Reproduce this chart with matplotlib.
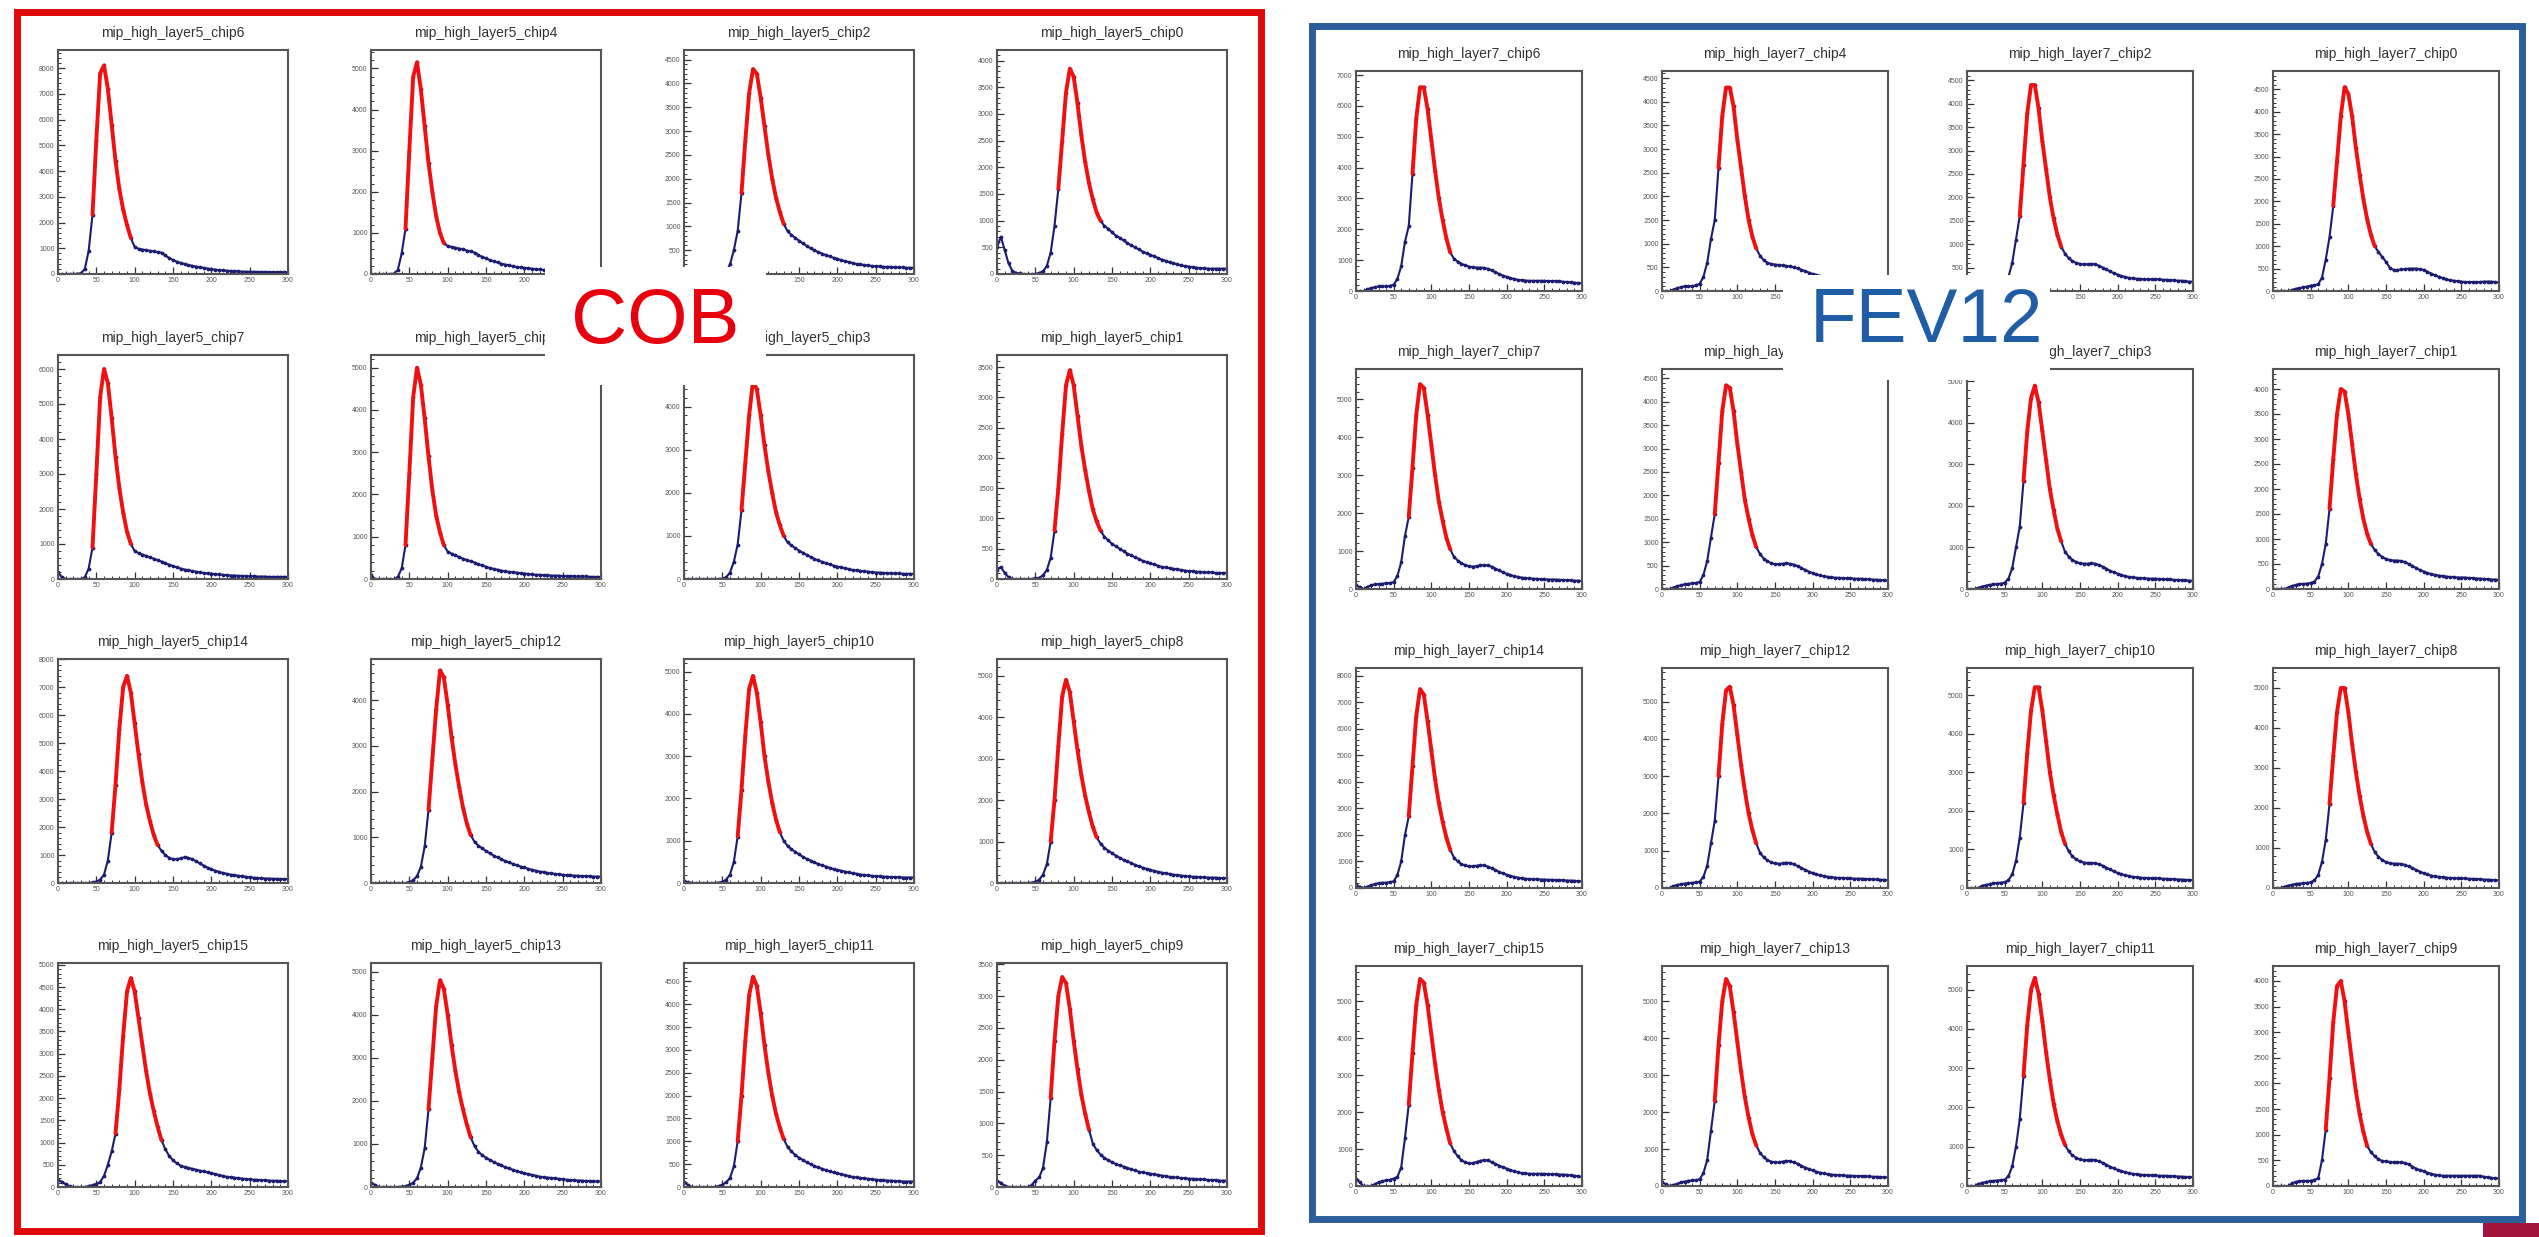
import matplotlib
matplotlib.use("Agg")
import matplotlib.pyplot as plt
from matplotlib.patches import Rectangle
from matplotlib.ticker import MultipleLocator, FormatStrFormatter

plt.rcParams['font.family'] = ['Liberation Sans', 'DejaVu Sans']

W, H = 2539, 1237

# bin centres (ADC), every 5 counts
adc = list(range(0, 301, 5))

# ---- layer 5 (COB) : counts per bin ----
l5_chip6 = [0, 0, 0, 0, 0, 10, 30, 200, 900, 2300,
            5200, 7800, 8100, 7200, 5800, 4400, 3300, 2500, 1900, 1400,
            1050, 980, 950, 930, 900, 880, 850, 830, 720, 620,
            540, 480, 430, 390, 350, 320, 290, 260, 240, 210,
            190, 170, 150, 140, 130, 120, 110, 100, 95, 90,
            90, 85, 80, 80, 80, 75, 75, 70, 70, 70, 70]
l5_chip4 = [0, 0, 0, 0, 0, 0, 10, 100, 500, 1100,
            3000, 4800, 5150, 4500, 3600, 2700, 2000, 1400, 1000, 750,
            680, 660, 640, 620, 600, 570, 550, 520, 460, 420,
            380, 340, 310, 280, 250, 230, 210, 190, 170, 160,
            150, 140, 130, 120, 110, 100, 95, 90, 85, 80,
            80, 75, 75, 70, 70, 70, 65, 65, 60, 60, 60]
l5_chip2 = [0, 0, 0, 0, 0, 0, 0, 0, 0, 0,
            10, 50, 200, 500, 900, 1700, 2800, 3800, 4300, 4200,
            3700, 3100, 2500, 2000, 1600, 1300, 1050, 900, 820, 760,
            700, 640, 590, 540, 500, 460, 430, 400, 370, 340,
            320, 290, 270, 250, 230, 210, 200, 190, 180, 170,
            160, 160, 150, 150, 150, 140, 140, 140, 130, 130, 130]
l5_chip0 = [500, 700, 450, 200, 60, 20, 10, 0, 0, 0,
            0, 20, 50, 150, 400, 900, 1600, 2500, 3400, 3850,
            3700, 3200, 2600, 2100, 1700, 1400, 1150, 1000, 900, 850,
            780, 720, 680, 630, 580, 540, 500, 460, 420, 390,
            360, 330, 300, 270, 250, 220, 200, 180, 160, 150,
            140, 130, 120, 110, 110, 100, 100, 100, 100, 100, 100]
l5_chip7 = [200, 50, 0, 0, 0, 0, 0, 50, 300, 900,
            3000, 5200, 6000, 5600, 4600, 3500, 2600, 1900, 1350, 1000,
            800, 740, 700, 660, 620, 580, 540, 500, 450, 410,
            370, 330, 300, 270, 250, 230, 210, 190, 170, 160,
            150, 140, 130, 120, 110, 100, 100, 90, 90, 80,
            80, 80, 70, 70, 70, 60, 60, 60, 60, 60, 60]
l5_chip5 = [100, 0, 0, 0, 0, 0, 0, 50, 250, 800,
            2500, 4300, 5000, 4600, 3800, 2900, 2100, 1500, 1100, 800,
            650, 600, 560, 520, 480, 450, 420, 390, 350, 320,
            290, 260, 240, 220, 200, 180, 170, 160, 150, 140,
            130, 120, 110, 100, 100, 90, 90, 80, 80, 80,
            70, 70, 70, 60, 60, 60, 60, 50, 50, 50, 50]
l5_chip3 = [0, 0, 0, 0, 0, 0, 0, 0, 0, 0,
            10, 40, 150, 400, 800, 1600, 2700, 3800, 4600, 4400,
            3800, 3100, 2500, 2000, 1550, 1250, 1000, 850, 780, 720,
            660, 610, 560, 510, 470, 430, 400, 370, 340, 310,
            290, 270, 250, 230, 210, 200, 190, 180, 170, 160,
            150, 150, 140, 140, 130, 130, 130, 120, 120, 120, 120]
l5_chip1 = [150, 200, 100, 30, 0, 0, 0, 0, 0, 0,
            10, 20, 60, 150, 350, 800, 1500, 2400, 3200, 3450,
            3200, 2700, 2200, 1800, 1450, 1150, 950, 800, 700, 640,
            580, 540, 500, 460, 420, 390, 360, 330, 300, 280,
            260, 240, 220, 200, 190, 180, 170, 160, 150, 140,
            130, 130, 120, 120, 110, 110, 110, 100, 100, 100, 100]
l5_chip14 = [0, 0, 0, 0, 0, 0, 0, 0, 0, 20,
             50, 120, 300, 800, 1800, 3500, 5500, 7000, 7400, 6800,
             5700, 4600, 3600, 2800, 2200, 1700, 1350, 1150, 1000, 900,
             850, 850, 880, 920, 900, 850, 780, 700, 620, 550,
             490, 440, 400, 360, 330, 300, 280, 260, 240, 220,
             200, 190, 180, 170, 160, 160, 150, 150, 140, 140, 140]
l5_chip12 = [0, 0, 0, 0, 0, 0, 0, 0, 0, 0,
             20, 60, 150, 350, 800, 1600, 2700, 3800, 4650, 4500,
             3900, 3200, 2600, 2100, 1650, 1300, 1050, 900, 820, 760,
             700, 650, 600, 560, 520, 480, 450, 420, 390, 360,
             340, 310, 290, 270, 250, 240, 220, 210, 200, 190,
             180, 170, 170, 160, 160, 150, 150, 150, 140, 140, 140]
l5_chip10 = [50, 20, 0, 0, 0, 0, 0, 0, 0, 10,
             30, 80, 200, 500, 1100, 2200, 3500, 4600, 4900, 4500,
             3800, 3000, 2400, 1900, 1500, 1200, 1000, 880, 800, 740,
             680, 620, 570, 530, 490, 450, 420, 390, 360, 330,
             310, 290, 270, 250, 230, 220, 200, 190, 180, 170,
             160, 160, 150, 150, 140, 140, 140, 130, 130, 130, 130]
l5_chip8 = [0, 0, 0, 0, 0, 0, 0, 0, 0, 10,
            30, 80, 200, 450, 1000, 2000, 3300, 4500, 4900, 4600,
            3900, 3200, 2600, 2100, 1700, 1350, 1100, 950, 850, 780,
            720, 660, 610, 560, 520, 480, 440, 400, 370, 340,
            320, 290, 270, 250, 230, 220, 200, 190, 180, 170,
            160, 150, 150, 140, 140, 130, 130, 130, 120, 120, 120]
l5_chip15 = [150, 120, 60, 20, 0, 0, 0, 0, 20, 40,
             70, 110, 250, 500, 800, 1200, 2200, 3400, 4400, 4700,
             4400, 3800, 3200, 2600, 2100, 1700, 1350, 1050, 850, 700,
             600, 530, 480, 450, 430, 410, 390, 370, 350, 330,
             310, 290, 270, 250, 230, 220, 210, 200, 190, 180,
             170, 165, 160, 155, 150, 145, 140, 140, 135, 130, 130]
l5_chip13 = [100, 50, 0, 0, 0, 0, 0, 0, 10, 20,
             50, 100, 200, 450, 900, 1800, 3000, 4200, 4800, 4600,
             4000, 3300, 2700, 2200, 1800, 1450, 1150, 950, 820, 740,
             680, 630, 580, 540, 500, 460, 430, 400, 370, 340,
             320, 300, 280, 260, 240, 230, 220, 210, 200, 190,
             180, 170, 160, 160, 150, 150, 140, 140, 130, 130, 130]
l5_chip11 = [100, 50, 0, 0, 0, 0, 0, 0, 0, 20,
             50, 100, 200, 450, 1000, 2000, 3200, 4200, 4600, 4400,
             3800, 3100, 2500, 2000, 1600, 1300, 1050, 880, 780, 700,
             640, 590, 540, 500, 460, 430, 400, 370, 340, 320,
             300, 280, 260, 240, 220, 210, 200, 190, 180, 170,
             160, 150, 150, 140, 140, 130, 130, 120, 120, 120, 120]
l5_chip9 = [100, 60, 20, 0, 0, 0, 0, 0, 0, 30,
            100, 150, 300, 700, 1400, 2300, 3000, 3300, 3200, 2800,
            2300, 1850, 1450, 1150, 900, 680, 580, 510, 460, 420,
            390, 360, 340, 320, 300, 280, 260, 240, 230, 220,
            210, 200, 190, 180, 170, 160, 150, 150, 140, 140,
            130, 130, 120, 120, 120, 110, 110, 110, 100, 100, 100]

# ---- layer 7 (FEV12) : counts per bin ----
l7_chip6 = [0, 0, 0, 50, 100, 120, 150, 150, 150, 170,
            200, 400, 800, 1600, 2100, 3800, 5600, 6600, 6600, 5900,
            4900, 3900, 3000, 2300, 1700, 1250, 1050, 950, 880, 830,
            790, 770, 760, 760, 750, 720, 670, 610, 550, 500,
            460, 420, 390, 360, 350, 340, 330, 330, 330, 330,
            330, 320, 320, 320, 310, 300, 290, 280, 270, 260, 250]
l7_chip4 = [0, 0, 0, 30, 60, 80, 100, 100, 100, 120,
            150, 300, 600, 1100, 1500, 2600, 3700, 4300, 4300, 3900,
            3200, 2600, 2000, 1500, 1150, 900, 750, 650, 600, 570,
            560, 550, 540, 530, 520, 500, 480, 450, 420, 390,
            360, 340, 320, 300, 290, 280, 270, 260, 250, 250,
            240, 240, 230, 230, 220, 220, 210, 210, 200, 200, 200]
l7_chip2 = [0, 0, 0, 30, 60, 80, 100, 100, 100, 120,
            150, 300, 600, 1100, 1600, 2700, 3800, 4400, 4400, 3900,
            3200, 2600, 2000, 1550, 1200, 950, 800, 700, 640, 600,
            580, 570, 570, 580, 570, 540, 500, 460, 420, 380,
            350, 320, 300, 280, 270, 260, 260, 250, 250, 250,
            250, 250, 240, 240, 230, 230, 220, 220, 210, 200, 200]
l7_chip0 = [0, 0, 0, 0, 0, 20, 50, 60, 80, 100,
            120, 130, 150, 300, 700, 1200, 1900, 2900, 3900, 4550,
            4400, 3900, 3200, 2600, 2050, 1600, 1250, 1000, 870, 760,
            650, 520, 470, 470, 480, 490, 500, 500, 500, 490,
            470, 430, 390, 350, 320, 290, 260, 240, 230, 220,
            210, 200, 200, 200, 200, 200, 210, 210, 210, 200, 190]
l7_chip7 = [100, 50, 0, 50, 100, 120, 130, 140, 150, 160,
            180, 350, 700, 1400, 1900, 3200, 4600, 5400, 5300, 4600,
            3800, 3000, 2300, 1800, 1350, 1050, 850, 750, 680, 630,
            600, 590, 600, 620, 630, 620, 590, 540, 490, 440,
            400, 370, 340, 320, 300, 290, 280, 270, 270, 260,
            260, 250, 250, 250, 240, 240, 230, 230, 220, 220, 210]
l7_chip5 = [0, 0, 0, 30, 60, 80, 100, 110, 120, 130,
            150, 300, 600, 1100, 1600, 2700, 3800, 4350, 4300, 3800,
            3100, 2500, 1900, 1500, 1150, 900, 750, 650, 590, 550,
            530, 530, 540, 550, 540, 520, 490, 450, 410, 370,
            340, 310, 290, 270, 260, 250, 240, 240, 230, 230,
            230, 220, 220, 220, 210, 210, 200, 200, 190, 190, 180]
l7_chip3 = [0, 0, 0, 30, 60, 80, 100, 110, 120, 130,
            150, 250, 500, 1000, 1500, 2600, 3800, 4600, 4900, 4500,
            3800, 3100, 2400, 1900, 1450, 1150, 900, 780, 700, 650,
            620, 610, 610, 620, 610, 580, 540, 490, 440, 400,
            370, 340, 310, 290, 280, 270, 260, 260, 250, 250,
            250, 240, 240, 230, 230, 220, 220, 210, 210, 200, 200]
l7_chip1 = [0, 0, 0, 0, 30, 60, 80, 100, 100, 110,
            120, 150, 250, 500, 900, 1600, 2600, 3500, 4000, 3950,
            3500, 2900, 2300, 1800, 1400, 1100, 900, 780, 700, 640,
            600, 580, 570, 570, 560, 540, 500, 460, 420, 380,
            350, 320, 300, 280, 270, 260, 250, 240, 240, 230,
            230, 230, 220, 220, 210, 210, 200, 200, 190, 190, 180]
l7_chip14 = [100, 50, 0, 50, 100, 150, 180, 200, 200, 220,
             250, 500, 1000, 2000, 2700, 4600, 6500, 7500, 7300, 6300,
             5200, 4100, 3200, 2500, 1900, 1450, 1150, 1000, 900, 850,
             820, 820, 840, 860, 850, 810, 750, 680, 610, 550,
             500, 460, 420, 390, 370, 350, 340, 330, 330, 320,
             320, 310, 310, 300, 300, 290, 280, 280, 270, 260, 250]
l7_chip12 = [0, 0, 0, 50, 80, 100, 120, 130, 140, 150,
             170, 300, 600, 1200, 1800, 3000, 4400, 5300, 5400, 4900,
             4100, 3300, 2600, 2000, 1550, 1200, 950, 820, 740, 690,
             660, 650, 660, 680, 670, 640, 590, 540, 490, 440,
             400, 370, 340, 320, 300, 290, 280, 270, 270, 260,
             260, 250, 250, 250, 240, 240, 230, 230, 220, 220, 210]
l7_chip10 = [0, 0, 0, 0, 60, 80, 100, 120, 130, 140,
             150, 200, 350, 700, 1300, 2200, 3500, 4600, 5200, 5200,
             4600, 3800, 3000, 2400, 1900, 1450, 1150, 950, 820, 740,
             690, 660, 650, 650, 640, 620, 580, 530, 480, 430,
             390, 360, 330, 310, 290, 280, 270, 260, 260, 250,
             250, 250, 240, 240, 230, 230, 220, 220, 210, 210, 200]
l7_chip8 = [0, 0, 0, 30, 60, 80, 100, 110, 120, 130,
            140, 190, 330, 650, 1200, 2100, 3300, 4400, 5000, 5000,
            4400, 3600, 2900, 2300, 1800, 1400, 1100, 900, 780, 700,
            650, 620, 610, 610, 600, 580, 540, 500, 450, 410,
            370, 340, 310, 290, 280, 270, 260, 250, 250, 240,
            240, 240, 230, 230, 220, 220, 210, 210, 200, 200, 190]
l7_chip15 = [200, 100, 0, 0, 0, 50, 100, 130, 150, 170,
             200, 250, 500, 1300, 2200, 3600, 4900, 5600, 5500, 4900,
             4100, 3300, 2600, 2000, 1550, 1150, 950, 800, 700, 640,
             610, 620, 650, 680, 700, 690, 650, 600, 550, 510,
             470, 430, 400, 370, 350, 340, 330, 330, 330, 330,
             330, 320, 320, 320, 310, 310, 300, 290, 280, 260, 250]
l7_chip13 = [100, 50, 0, 30, 60, 100, 120, 140, 150, 160,
             180, 350, 700, 1500, 2300, 3800, 5000, 5600, 5400, 4700,
             3900, 3100, 2400, 1850, 1400, 1100, 900, 780, 700, 660,
             640, 640, 660, 680, 670, 640, 600, 550, 500, 460,
             420, 390, 360, 340, 320, 310, 300, 290, 290, 280,
             280, 270, 270, 270, 260, 260, 250, 250, 240, 240, 230]
l7_chip11 = [0, 0, 0, 50, 80, 100, 120, 130, 140, 150,
             160, 250, 500, 1000, 1700, 2800, 4100, 5000, 5300, 4900,
             4200, 3400, 2700, 2100, 1650, 1300, 1050, 880, 780, 720,
             680, 660, 660, 670, 660, 630, 590, 540, 490, 450,
             410, 380, 350, 330, 310, 300, 290, 280, 280, 270,
             270, 260, 260, 260, 250, 250, 240, 240, 230, 230, 220]
l7_chip9 = [0, 0, 0, 0, 0, 50, 80, 90, 100, 100,
            100, 120, 150, 500, 1100, 2100, 3200, 3900, 4000, 3600,
            3000, 2400, 1850, 1400, 1050, 780, 660, 580, 520, 490,
            480, 470, 460, 460, 460, 450, 420, 380, 340, 310,
            290, 260, 240, 220, 210, 200, 200, 200, 200, 200,
            200, 200, 200, 200, 200, 200, 180, 170, 160, 150, 150]

# panel order, row by row
chips = [6, 4, 2, 0, 7, 5, 3, 1, 14, 12, 10, 8, 15, 13, 11, 9]
cob_counts = [l5_chip6, l5_chip4, l5_chip2, l5_chip0,
              l5_chip7, l5_chip5, l5_chip3, l5_chip1,
              l5_chip14, l5_chip12, l5_chip10, l5_chip8,
              l5_chip15, l5_chip13, l5_chip11, l5_chip9]
cob_ymax = [8700, 5450, 4700, 4200, 6400, 5300, 5200, 3700,
            8000, 4900, 5300, 5400, 5040, 5200, 4900, 3520]
cob_ystep = [1000, 1000, 500, 500, 1000, 1000, 1000, 500,
             1000, 1000, 1000, 1000, 500, 1000, 500, 500]
cob_fit = [(42, 97), (45, 95), (73, 134), (78, 135),
           (45, 95), (45, 95), (72, 130), (75, 135),
           (70, 130), (72, 130), (70, 128), (70, 130),
           (74, 137), (72, 132), (70, 130), (67, 124)]

fev_counts = [l7_chip6, l7_chip4, l7_chip2, l7_chip0,
              l7_chip7, l7_chip5, l7_chip3, l7_chip1,
              l7_chip14, l7_chip12, l7_chip10, l7_chip8,
              l7_chip15, l7_chip13, l7_chip11, l7_chip9]
fev_ymax = [7130, 4650, 4700, 4910, 5800, 4700, 5300, 4400,
            8300, 5900, 5700, 5500, 5950, 5950, 5600, 4290]
fev_ystep = [1000, 500, 500, 500, 1000, 500, 1000, 500,
             1000, 1000, 1000, 1000, 1000, 1000, 1000, 500]
fev_fit = [(72, 125), (72, 128), (70, 125), (78, 138),
           (70, 125), (70, 125), (72, 128), (75, 132),
           (70, 125), (72, 128), (75, 132), (75, 132),
           (69, 127), (70, 125), (72, 130), (69, 125)]

NAVY = '#1c1c72'
RED = '#f01010'

fig = plt.figure(figsize=(W / 100, H / 100), dpi=100)
fig.patch.set_facecolor('white')


def px_rect(x0, y0, x1, y1, **kw):
    # rectangle given in pixels from the top-left corner
    r = Rectangle((x0 / W, 1 - y1 / H), (x1 - x0) / W, (y1 - y0) / H,
                  transform=fig.transFigure, **kw)
    fig.add_artist(r)
    return r


def draw_panel(left, top, w, h, title, counts, ymax, ystep, fit):
    ax = fig.add_axes([left / W, 1 - (top + h) / H, w / W, h / H])
    ax.plot(adc, counts, color=NAVY, lw=1.5, marker='o', ms=1.7, zorder=2)
    fx = [x for x in adc if fit[0] <= x <= fit[1]]
    fy = [c for x, c in zip(adc, counts) if fit[0] <= x <= fit[1]]
    ax.plot(fx, fy, color=RED, lw=2.8, zorder=3, solid_capstyle='round')
    ax.set_xlim(0, 300)
    ax.set_ylim(0, ymax)
    ax.xaxis.set_major_locator(MultipleLocator(50))
    ax.xaxis.set_minor_locator(MultipleLocator(10))
    ax.yaxis.set_major_locator(MultipleLocator(ystep))
    ax.yaxis.set_minor_locator(MultipleLocator(ystep / 5))
    ax.yaxis.set_major_formatter(FormatStrFormatter('%d'))
    ax.tick_params(which='both', direction='in', top=False, right=False,
                   color='#333333', labelsize=5, labelcolor='#555555', pad=2.5)
    ax.tick_params(which='major', length=5, width=0.9)
    ax.tick_params(which='minor', length=2.5, width=0.7)
    for sp in ax.spines.values():
        sp.set_linewidth(1.5)
        sp.set_color('#555555')
    fig.text((left + w / 2) / W, 1 - (top - 17) / H, title, ha='center',
             va='center', fontsize=10, color='#333333')
    return ax


# COB panels (layer 5)
cob_left = [58, 371, 684, 997]
cob_top = [50, 355, 659, 963]
for i in range(16):
    r, c = divmod(i, 4)
    draw_panel(cob_left[c], cob_top[r], 230, 224,
               'mip_high_layer5_chip%d' % chips[i], cob_counts[i],
               cob_ymax[i], cob_ystep[i], cob_fit[i])

# FEV12 panels (layer 7)
fev_left = [1356, 1662, 1967, 2273]
fev_top = [71, 369, 668, 966]
for i in range(16):
    r, c = divmod(i, 4)
    draw_panel(fev_left[c], fev_top[r], 226, 220,
               'mip_high_layer7_chip%d' % chips[i], fev_counts[i],
               fev_ymax[i], fev_ystep[i], fev_fit[i])

# frames around the two groups
px_rect(16.5, 11.5, 1261, 1231, fill=False, edgecolor='#e00a0a',
        linewidth=5.0, zorder=6)
px_rect(1311.5, 26, 2522, 1218.5, fill=False, edgecolor='#2b5f9b',
        linewidth=5.0, zorder=6)

# group labels on white boxes
px_rect(545, 267, 766, 385, facecolor='white', edgecolor='none', zorder=5)
fig.text(655 / W, 1 - 323 / H, 'COB', ha='center', va='center',
         fontsize=56, color='#e8000e', zorder=7)
px_rect(1783, 275, 2050, 380, facecolor='white', edgecolor='none', zorder=5)
fig.text(1926 / W, 1 - 323 / H, 'FEV12', ha='center', va='center',
         fontsize=55, color='#1f5ea6', zorder=7)

# slide number tab
px_rect(2483, 1223, 2539, 1237, facecolor='#a3143a', edgecolor='none', zorder=6)

fig.savefig('out.png', dpi=100, facecolor='white')
